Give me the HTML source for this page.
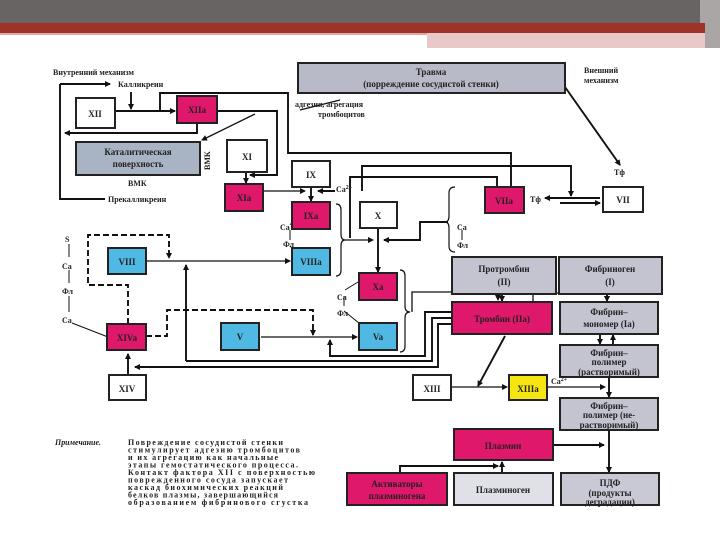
<!DOCTYPE html>
<html><head><meta charset="utf-8"><style>
html,body{margin:0;padding:0;background:#fff;}
svg{display:block;}
text{font-family:"Liberation Serif","Noto Serif CJK SC",serif;font-weight:bold;fill:#222;}
.b{stroke:#222;stroke-width:2;}
.t{font-size:9px;}
.s{font-size:8px;font-weight:normal;}
</style></head><body>
<svg width="720" height="540" viewBox="0 0 720 540" xmlns="http://www.w3.org/2000/svg">
<defs>
<marker id="a" markerWidth="6" markerHeight="6" refX="5" refY="3" orient="auto" markerUnits="userSpaceOnUse"><path d="M0,0 L6,3 L0,6 z" fill="#111"/></marker>
</defs>
<rect x="0" y="0" width="720" height="23" fill="#676463"/>
<rect x="700" y="0" width="20" height="48" fill="#a9a6a5"/>
<rect x="0" y="23" width="705" height="10" fill="#9e3328"/>
<rect x="0" y="33" width="427" height="2" fill="#e2a8a8"/>
<rect x="427" y="33" width="278" height="15" fill="#e8c8c8"/>

<g fill="none" stroke="#111" stroke-width="1.9">
<path d="M60,84 V199 H105"/>
<path d="M60,84 H110" marker-end="url(#a)"/>
<path d="M197,123 V133 H65" marker-end="url(#a)"/>
<path d="M115,111 H175" marker-end="url(#a)"/>
<path d="M131,92 V109" marker-end="url(#a)"/>
<path d="M160,111 V93 H288 V153 H511 V187"/>
<path d="M217,111 H277 V175 H250" marker-end="url(#a)"/>
<path d="M246,172 V183" marker-end="url(#a)"/>
<path d="M255,114 L202,140" stroke-width="1.3" marker-end="url(#a)"/>
<path d="M340,100 L300,110" stroke-width="1.3"/>
<path d="M263,191 H305" stroke-width="1.3" marker-end="url(#a)"/>
<path d="M311,187 V201" marker-end="url(#a)"/>
<path d="M362,191 V166 H571 V196" marker-end="url(#a)"/>
<path d="M335,191 H318" marker-end="url(#a)"/>
<path d="M350,238 V177 H497 V187"/>
<path d="M565,87 L620,165" marker-end="url(#a)"/>
<path d="M600,198 H545" marker-end="url(#a)"/>
<path d="M560,203 H600" marker-end="url(#a)"/>
<path d="M378,228 V272" marker-end="url(#a)"/>
<path d="M345,240 H373" stroke-width="1.3" marker-end="url(#a)"/>
<path d="M448,222 H420 V240 H384" marker-end="url(#a)"/>
<path d="M146,261 H290" stroke-width="1.3" marker-end="url(#a)"/>
<path d="M186,361 V265" marker-end="url(#a)"/>
<path d="M261,337 H357" stroke-width="1.3" marker-end="url(#a)"/>
<path d="M452,312 H425 V356 H330 V340" marker-end="url(#a)"/>
<path d="M452,318 H432 V361 H186"/>
<path d="M452,324 H438 V367 H135" marker-end="url(#a)"/>
<path d="M128,375 V354" marker-end="url(#a)"/>
<path d="M412,312 V292 H498 V300" stroke-width="1.3" marker-end="url(#a)"/>
<path d="M502,294 V301" marker-end="url(#a)"/>
<path d="M533,302 V293 H607 V301" stroke-width="1.3" marker-end="url(#a)"/>
<path d="M607,294 V301" marker-end="url(#a)"/>
<path d="M600,334 V344" marker-end="url(#a)"/>
<path d="M613,345 V335" marker-end="url(#a)"/>
<path d="M505,336 L478,386" marker-end="url(#a)"/>
<path d="M451,387 H507" stroke-width="1.3" marker-end="url(#a)"/>
<path d="M547,387 H605" stroke-width="1.3" marker-end="url(#a)"/>
<path d="M609,377 V397" marker-end="url(#a)"/>
<path d="M609,430 V472" marker-end="url(#a)"/>
<path d="M553,445 H604" marker-end="url(#a)"/>
<path d="M502,473 V462" marker-end="url(#a)"/>
<path d="M400,473 V466 H498" marker-end="url(#a)"/>
<path d="M128,324 V285 H88 V235 H169 V258" stroke-dasharray="6,3" marker-end="url(#a)"/>
<path d="M146,336 H167 V310 H313 V335" stroke-dasharray="6,3" marker-end="url(#a)"/>
<path d="M69,244 V257 M69,270 V283 M69,296 V312" stroke-width="1"/>
<path d="M72,323 L108,337" stroke-width="1"/>
<path d="M306,228 L290,224 M290,230 V240" stroke-width="1"/>
<path d="M290,246 L300,256" stroke-width="1"/>
<path d="M345,290 L358,282 M344,296 V306 M344,311 L359,323" stroke-width="1"/>
<path d="M462,230 V240" stroke-width="1"/>
<path d="M336,204 Q341,204 341,210 V234 Q341,240 345,240 Q341,240 341,246 V270 Q341,276 336,276" stroke-width="1.2"/>
<path d="M455,187 Q449,187 449,193 V216 Q449,222 445,222 Q449,222 449,228 V246 Q449,252 455,252" stroke-width="1.2"/>
<path d="M400,270 Q405,270 405,276 V306 Q405,312 410,312 Q405,312 405,318 V346 Q405,352 400,352" stroke-width="1.2"/>
</g>

<g class="b">
<rect x="298" y="63" width="267" height="30" fill="#b9bac8"/>
<rect x="76" y="98" width="39" height="30" fill="#fff"/>
<rect x="177" y="96" width="40" height="27" fill="#e0186c"/>
<rect x="76" y="142" width="124" height="33" fill="#a8b3c3"/>
<rect x="227" y="140" width="40" height="32" fill="#fff"/>
<rect x="225" y="184" width="38" height="27" fill="#e0186c"/>
<rect x="292" y="161" width="38" height="26" fill="#fff"/>
<rect x="292" y="202" width="38" height="27" fill="#e0186c"/>
<rect x="360" y="202" width="37" height="26" fill="#fff"/>
<rect x="485" y="187" width="39" height="26" fill="#e0186c"/>
<rect x="603" y="187" width="40" height="25" fill="#fff"/>
<rect x="108" y="248" width="38" height="26" fill="#4fb9e4"/>
<rect x="292" y="248" width="38" height="27" fill="#4fb9e4"/>
<rect x="359" y="273" width="38" height="27" fill="#e0186c"/>
<rect x="107" y="324" width="39" height="26" fill="#e0186c"/>
<rect x="221" y="323" width="38" height="27" fill="#4fb9e4"/>
<rect x="359" y="323" width="38" height="27" fill="#4fb9e4"/>
<rect x="452" y="257" width="104" height="37" fill="#c3c4d0"/>
<rect x="559" y="257" width="103" height="37" fill="#c3c4d0"/>
<rect x="452" y="302" width="100" height="32" fill="#e0186c"/>
<rect x="560" y="302" width="98" height="32" fill="#c3c4d0"/>
<rect x="560" y="345" width="98" height="32" fill="#c3c4d0"/>
<rect x="109" y="375" width="37" height="25" fill="#fff"/>
<rect x="413" y="375" width="38" height="25" fill="#fff"/>
<rect x="509" y="375" width="38" height="25" fill="#f6e510"/>
<rect x="560" y="398" width="98" height="32" fill="#c3c4d0"/>
<rect x="454" y="429" width="99" height="31" fill="#e0186c"/>
<rect x="347" y="473" width="100" height="32" fill="#e0186c"/>
<rect x="454" y="473" width="99" height="32" fill="#dfe0e8"/>
<rect x="561" y="473" width="98" height="32" fill="#c8c9d4"/>
</g>

<g class="t" text-anchor="middle">
<text x="431" y="75">Травма</text>
<text x="431" y="87">(порреждение  сосудистой стенки)</text>
<text x="95" y="117">XII</text>
<text x="197" y="113" fill="#7a0d30">XIIa</text>
<text x="138" y="155">Каталитическая</text>
<text x="138" y="167">поверхность</text>
<text x="247" y="160">XI</text>
<text x="244" y="201" fill="#7a0d30">XIa</text>
<text x="311" y="178">IX</text>
<text x="311" y="219" fill="#7a0d30">IXa</text>
<text x="378" y="219">X</text>
<text x="504" y="204" fill="#7a0d30">VIIa</text>
<text x="623" y="203">VII</text>
<text x="127" y="265">VIII</text>
<text x="311" y="265">VIIIa</text>
<text x="378" y="290" fill="#7a0d30">Xa</text>
<text x="127" y="341" fill="#7a0d30">XIVa</text>
<text x="240" y="340">V</text>
<text x="378" y="340">Va</text>
<text x="504" y="272">Протромбин</text>
<text x="504" y="285">(II)</text>
<text x="610" y="272">Фибриноген</text>
<text x="610" y="285">(I)</text>
<text x="502" y="322" fill="#7a0d30">Тромбин (IIa)</text>
<text x="609" y="315">Фибрин–</text>
<text x="609" y="327">мономер (Ia)</text>
<text x="609" y="356">Фибрин–</text>
<text x="609" y="365">полимер</text>
<text x="609" y="375">(растворимый)</text>
<text x="127" y="392">XIV</text>
<text x="432" y="392">XIII</text>
<text x="528" y="392" fill="#7a0d30">XIIIa</text>
<text x="609" y="409">Фибрин–</text>
<text x="609" y="418">полимер (не-</text>
<text x="609" y="428">растворимый)</text>
<text x="503" y="449" fill="#7a0d30">Плазмин</text>
<text x="397" y="487" fill="#7a0d30">Активаторы</text>
<text x="397" y="499" fill="#7a0d30">плазминогена</text>
<text x="503" y="493" font-weight="normal">Плазминоген</text>
<text x="610" y="486" font-weight="normal">ПДФ</text>
<text x="610" y="496" font-weight="normal">(продукты</text>
<text x="610" y="505" font-weight="normal">деградации)</text>
</g>

<g class="s">
<text x="53" y="75" font-weight="bold">Внутренний  механизм</text>
<text x="118" y="87" font-weight="bold">Калликреин</text>
<text x="584" y="73" font-weight="bold">Внешний</text>
<text x="584" y="83" font-weight="bold">механизм</text>
<text x="295" y="107" font-weight="bold">адгезия, агрегация</text>
<text x="318" y="117" font-weight="bold">тромбоцитов</text>
<text x="128" y="186" font-weight="bold">ВМК</text>
<text x="210" y="170" font-weight="bold" transform="rotate(-90 210 170)">ВМК</text>
<text x="108" y="202" font-weight="bold">Прекалликреин</text>
<text x="336" y="192">Ca<tspan font-size="6" dy="-3">2+</tspan></text>
<text x="614" y="175" font-weight="bold">Тф</text>
<text x="530" y="202" font-weight="bold">Тф</text>
<text x="65" y="242">S</text>
<text x="62" y="269">Ca</text>
<text x="62" y="294">Фл</text>
<text x="62" y="323">Ca</text>
<text x="280" y="230">Ca</text>
<text x="283" y="247">Фл</text>
<text x="457" y="230">Ca</text>
<text x="457" y="248">Фл</text>
<text x="337" y="300">Ca</text>
<text x="337" y="316">Фл</text>
<text x="551" y="384">Ca<tspan font-size="6" dy="-3">2+</tspan></text>
</g>

<g font-size="8" style="font-family:'Liberation Serif',serif">
<text x="55" y="445" font-style="italic" textLength="46">Примечание.</text>
<text x="128" y="445" textLength="155">Повреждение сосудистой стенки</text>
<text x="128" y="452.5" textLength="172">стимулирует адгезию тромбоцитов</text>
<text x="128" y="460" textLength="150">и их агрегацию как начальные</text>
<text x="128" y="467.5" textLength="170">этапы гемостатического процесса.</text>
<text x="128" y="475" textLength="187">Контакт фактора XII с поверхностью</text>
<text x="128" y="482.5" textLength="160">поврежденного сосуда запускает</text>
<text x="128" y="490" textLength="155">каскад биохимических реакций</text>
<text x="128" y="497.5" textLength="150">белков плазмы, завершающийся</text>
<text x="128" y="505" textLength="180">образованием фибринового сгустка</text>
</g>
</svg>
</body></html>
